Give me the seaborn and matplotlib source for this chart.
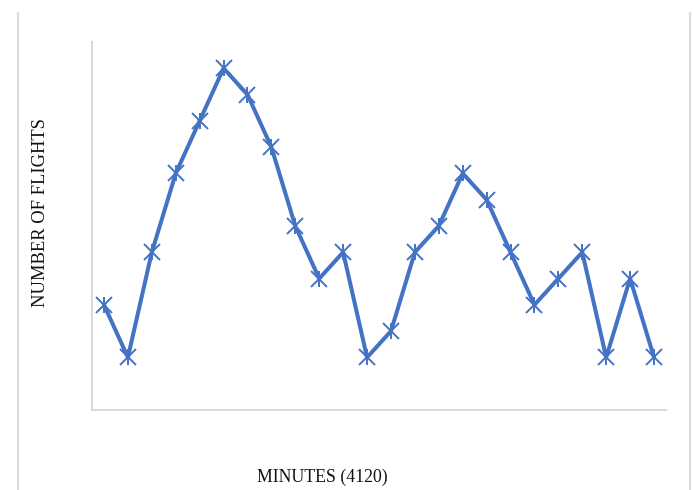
import matplotlib
matplotlib.use("Agg")
import matplotlib.pyplot as plt
from matplotlib.lines import Line2D
import numpy as np
import pandas as pd
import seaborn as sns

# Données (24 intervalles)
intervals = list(range(1, 25))
flights = [4, 2, 6, 9, 11, 13, 12, 10, 7, 5, 6, 2, 3, 6, 7, 9, 8, 6, 4, 5, 6, 2, 5, 2]

df = pd.DataFrame({"interval": intervals, "flights": flights})
df["pos"] = np.arange(len(df))

sns.set_style("white")
plt.rcParams["font.family"] = ["Liberation Serif", "DejaVu Serif"]

fig = plt.figure(figsize=(6.93, 4.90), dpi=100)
ax = fig.add_axes([0.1328, 0.1633, 0.8282, 0.751])

blue = "#4472C4"
sns.lineplot(data=df, x="pos", y="flights", ax=ax, color=blue, linewidth=2.9,
             marker="x", markersize=11, markeredgewidth=1.4, markeredgecolor=blue)
# trait vertical pour obtenir le marqueur étoile
ax.plot(df["pos"], df["flights"], linestyle="none", marker="|", markersize=11,
        markeredgewidth=1.4, color=blue)

ax.set_xlim(-0.5, len(df) - 0.5)
ax.set_ylim(0, 14)
ax.set_xticks([])
ax.set_yticks([])
ax.set_xlabel("")
ax.set_ylabel("")
for side in ["top", "right"]:
    ax.spines[side].set_visible(False)
for side in ["left", "bottom"]:
    ax.spines[side].set_color("#d9d9d9")
    ax.spines[side].set_linewidth(1.5)

fig.text(0.059, 0.567, "NUMBER OF FLIGHTS", rotation=90, ha="center", va="center",
         fontsize=13.3, color="#111111")
fig.text(0.465, 0.025, "MINUTES (4120)", ha="center", va="center",
         fontsize=12.8, color="#111111")

# bordures verticales du cadre
fig.add_artist(Line2D([0.026, 0.026], [0.0, 0.973], color="#d9d9d9", linewidth=1.5))
fig.add_artist(Line2D([0.996, 0.996], [0.0, 0.973], color="#d9d9d9", linewidth=1.5))

fig.savefig("out.png", dpi=100)
